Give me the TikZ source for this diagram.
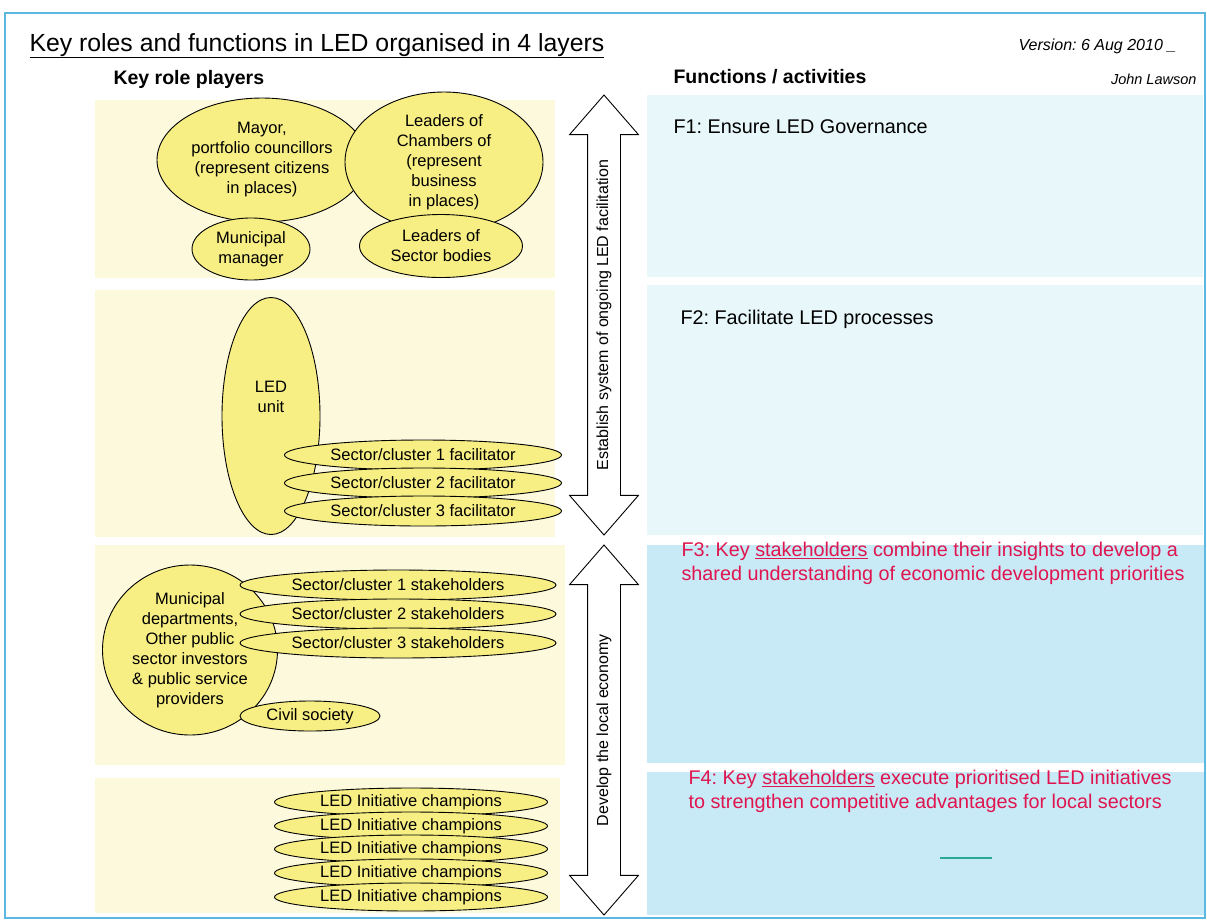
\documentclass[tikz,border=0pt]{standalone}
\usepackage{fontspec}
\setmainfont{Liberation Sans}
\usetikzlibrary{shapes.geometric,shapes.arrows}
\frenchspacing

\definecolor{frameblue}{HTML}{5BB8E0}
\definecolor{paleyellow}{HTML}{FCF9DC}
\definecolor{blobyellow}{HTML}{F7EE84}
\definecolor{palecyan}{HTML}{E8F7FA}
\definecolor{lightcyan}{HTML}{C8EAF7}
\definecolor{ledred}{HTML}{E0144E}
\definecolor{dashteal}{HTML}{2AA89A}

\begin{document}
\begin{tikzpicture}[x=1pt,y=-1pt,
    blob/.style={ellipse,draw,line width=0.9pt,fill=blobyellow,inner sep=0pt,align=center,
                 font=\fontsize{16.5}{20}\selectfont},
    ftext/.style={anchor=base west,align=left,font=\fontsize{19.8}{23.5}\selectfont},
    head/.style={anchor=base west,font=\fontsize{19.5}{23}\selectfont\bfseries},
    bigarrow/.style={double arrow,draw,line width=0.9pt,fill=white,rotate=90,
                     double arrow head extend=18pt,double arrow tip angle=82,
                     minimum width=68pt,inner xsep=0pt,inner ysep=9pt,
                     text height=11pt,text depth=3pt,font=\fontsize{16}{19}\selectfont}]
    \useasboundingbox (0,0) rectangle (1207,922);

    % layers behind the role players
    \fill[paleyellow] (95,100) rectangle (555,278);
    \fill[paleyellow] (95,290) rectangle (555,537);
    \fill[paleyellow] (95,545) rectangle (565,765);
    \fill[paleyellow] (95,778) rectangle (560,913);

    % layers behind the functions
    \fill[palecyan] (647,95) rectangle (1203,277);
    \fill[palecyan] (647,285) rectangle (1203,535);
    \fill[lightcyan] (647,545) rectangle (1205,763);
    \fill[lightcyan] (647,772) rectangle (1205,915);

    \draw[frameblue,line width=1.5pt] (5,13) rectangle (1205,918);

    % headings
    \node[anchor=base west,font=\fontsize{24.8}{28}\selectfont] (title) at (26,51)
        {\underline{Key roles and functions in LED organised in 4 layers}};
    \node[anchor=base west,font=\fontsize{16}{19}\selectfont\itshape] (version) at (1015,50)
        {Version: 6 Aug 2010 \_};
    \node[head] (players) at (110,84) {Key role players};
    \node[head] (functions) at (670,83) {Functions / activities};
    \node[anchor=base east,font=\fontsize{14.5}{17}\selectfont\itshape] (author) at (1200,84)
        {John Lawson};

    % layer 1
    \node[blob,minimum width=210pt,minimum height=124pt] (mayor) at (262,160)
        {Mayor,\\portfolio councillors\\(represent citizens\\in places)};
    \node[blob,minimum width=198pt,minimum height=140pt] (chambers) at (444,162)
        {Leaders of\\Chambers of\\(represent\\business\\in places)};
    \node[blob,minimum width=118pt,minimum height=62pt] (manager) at (251,249)
        {Municipal\\manager};
    \node[blob,minimum width=163pt,minimum height=63pt] (sectorbodies) at (441,246)
        {Leaders of\\Sector bodies};

    % layer 2
    \node[blob,minimum width=98pt,minimum height=237pt,
          label={[align=center,yshift=19pt,font=\fontsize{16.5}{20}\selectfont]center:LED\\unit}]
        (ledunit) at (271,416) {};
    \foreach \i/\y in {1/455,2/483,3/511}
        \node[blob,minimum width=277pt,minimum height=30pt] (fac\i) at (423,\y)
            {Sector/cluster \i\ facilitator};

    % layer 3
    \node[blob,minimum width=175pt,minimum height=170pt] (departments) at (190,650)
        {Municipal\\departments,\\Other public\\sector investors\\\& public service\\providers};
    \foreach \i/\y in {1/585,2/614,3/643}
        \node[blob,minimum width=316pt,minimum height=30pt] (stake\i) at (398,\y)
            {Sector/cluster \i\ stakeholders};
    \node[blob,minimum width=140pt,minimum height=30pt] (civil) at (310,716) {Civil society};

    % layer 4
    \foreach \i/\y in {1/802,2/826,3/849,4/873,5/897}
        \node[blob,minimum width=273pt,minimum height=28pt] (champ\i) at (411,\y)
            {LED Initiative champions};

    % the two block arrows
    \node[bigarrow,minimum height=440pt] (facilitation) at (604,315)
        {Establish system of ongoing LED facilitation};
    \node[bigarrow,minimum height=370pt] (economy) at (604,730)
        {Develop the local economy};

    % functions
    \node[ftext] (F1) at (670,133) {F1: Ensure LED Governance};
    \node[ftext] (F2) at (677,324) {F2: Facilitate LED processes};
    \node[ftext,text=ledred] (F3) at (678,580)
        {F3: Key \underline{stakeholders} combine their insights to develop a\\
         shared understanding of economic development priorities};
    \node[ftext,text=ledred] (F4) at (685,808)
        {F4: Key \underline{stakeholders} execute prioritised LED initiatives\\
         to strengthen competitive advantages for local sectors};
    \draw[dashteal,line width=1.2pt] (940,858) -- (992,858);
\end{tikzpicture}
\end{document}
